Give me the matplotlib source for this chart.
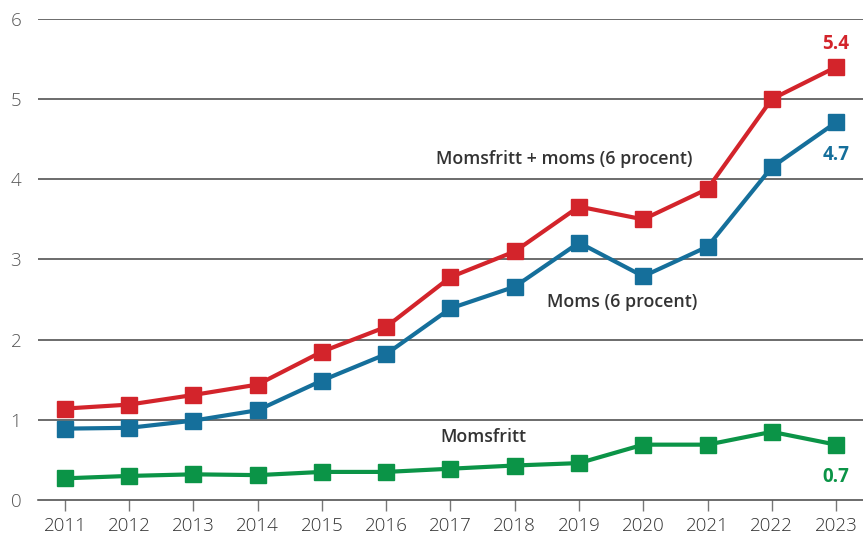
import numpy as np
import matplotlib
matplotlib.use('Agg')
import matplotlib.pyplot as plt

years = list(range(2011, 2024))
momsfritt_moms = [1.14, 1.19, 1.31, 1.44, 1.85, 2.16, 2.78, 3.10, 3.66, 3.50, 3.88, 5.00, 5.40]
moms = [0.89, 0.90, 0.99, 1.12, 1.49, 1.82, 2.39, 2.66, 3.21, 2.79, 3.16, 4.15, 4.71]
momsfritt = [0.27, 0.30, 0.32, 0.31, 0.35, 0.35, 0.39, 0.43, 0.46, 0.69, 0.69, 0.85, 0.69]
yticks = [0, 1, 2, 3, 4, 5, 6]

RED = '#d3242b'
BLUE = '#156f9b'
GREEN = '#0b9447'
DARK = '#333333'

plt.rcParams['font.family'] = ['Open Sans', 'DejaVu Sans']

fig = plt.figure(figsize=(8.63, 5.39), dpi=100)
ax = fig.add_axes([0.044, 0.0724, 0.956, 0.8924])

for vals, col in [(momsfritt, GREEN), (moms, BLUE), (momsfritt_moms, RED)]:
    ax.plot(years, vals, color=col, lw=3, marker='s', markersize=11.5,
            solid_joinstyle='miter', zorder=3)

ax.set_ylim(0, 6)
ax.set_xlim(2010.58, 2023.42)
ax.set_yticks(yticks)
ax.set_xticks(years)
for y in yticks[1:]:
    ax.axhline(y, color='#444444', lw=1.1, zorder=1)

for s in ['top', 'right', 'left']:
    ax.spines[s].set_visible(False)
ax.spines['bottom'].set_color('#444444')
ax.spines['bottom'].set_linewidth(1.1)

ax.tick_params(axis='y', length=0, pad=12, labelsize=13.5, labelcolor='#555555')
ax.tick_params(axis='x', length=8, width=1, color='#777777', pad=4,
               labelsize=13.5, labelcolor='#333333')
for lbl in ax.get_xticklabels() + ax.get_yticklabels():
    lbl.set_fontweight('light')

# series labels
ax.text(2016.77, 4.25, 'Momsfritt + moms (6 procent)', fontsize=12.8,
        fontweight='semibold', color=DARK, ha='left', va='center')
ax.text(2018.5, 2.47, 'Moms (6 procent)', fontsize=12.8,
        fontweight='semibold', color=DARK, ha='left', va='center')
ax.text(2016.85, 0.78, 'Momsfritt', fontsize=12.8,
        fontweight='semibold', color=DARK, ha='left', va='center')

# end values
ax.text(years[-1], 5.69, f'{momsfritt_moms[-1]:.1f}', color=RED,
        fontsize=13.5, fontweight='bold', ha='center', va='center')
ax.text(years[-1], 4.30, f'{moms[-1]:.1f}', color=BLUE,
        fontsize=13.5, fontweight='bold', ha='center', va='center')
ax.text(years[-1], 0.29, f'{momsfritt[-1]:.1f}', color=GREEN,
        fontsize=13.5, fontweight='bold', ha='center', va='center')

fig.savefig('out.png', dpi=100)
